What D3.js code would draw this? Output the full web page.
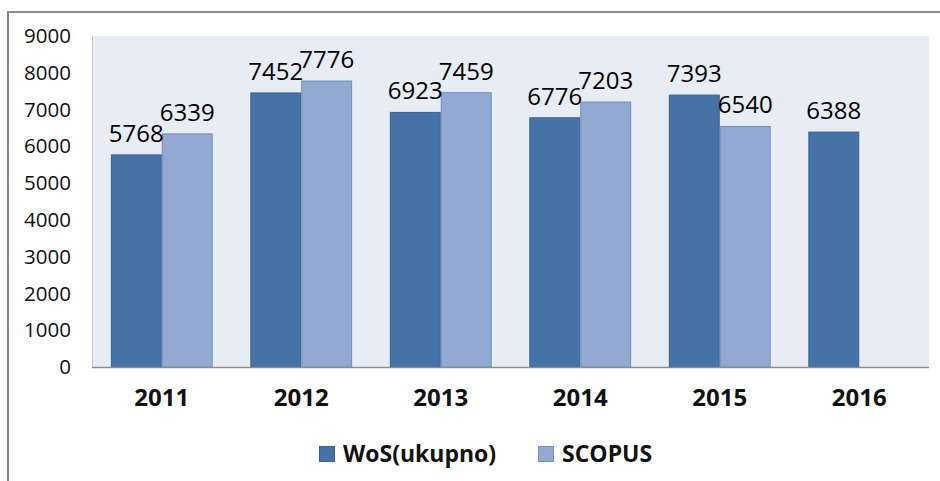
<!DOCTYPE html>
<html>
<head>
<meta charset="utf-8">
<script src="https://cdn.jsdelivr.net/npm/d3@7"></script>
<style>
  html, body { margin: 0; padding: 0; background: #fff; }
  #chart { width: 940px; height: 481px; }
  text { font-family: "Open Sans", "Noto Sans", sans-serif; }
</style>
</head>
<body>
<div id="chart"></div>
<script>
const years = ["2011", "2012", "2013", "2014", "2015", "2016"];
const seriesNames = ["WoS(ukupno)", "SCOPUS"];
const wos = [5768, 7452, 6923, 6776, 7393, 6388];
const scopus = [6339, 7776, 7459, 7203, 6540, null];
const yTicks = [0, 1000, 2000, 3000, 4000, 5000, 6000, 7000, 8000, 9000];

function renderChart(containerSelector) {
    const container = d3.select(containerSelector);
    const width = 940, height = 481;

    const svg = container.append("svg")
        .attr("width", width)
        .attr("height", height);

    // outer frame (runs off the right and bottom edge)
    svg.append("path")
        .attr("d", `M8,${height + 5} V12 H${width + 5}`)
        .attr("fill", "none")
        .attr("stroke", "#8a8a8a")
        .attr("stroke-width", 2);

    const plot = { left: 92, right: 929, top: 36, bottom: 367 };

    const x = d3.scaleBand().domain(years).range([plot.left, plot.right]).paddingInner(0).paddingOuter(0);
    const inner = d3.scaleBand().domain(seriesNames).range([0, x.bandwidth()]).paddingInner(0).paddingOuter(0.37);
    const y = d3.scaleLinear().domain([0, 9000]).range([plot.bottom, plot.top]);

    const colors = { "WoS(ukupno)": "#4572a7", "SCOPUS": "#94a9d1" };
    const strokes = { "WoS(ukupno)": "#3b6292", "SCOPUS": "#6f8dbd" };

    // plot background
    svg.append("rect")
        .attr("x", plot.left).attr("y", plot.top)
        .attr("width", plot.right - plot.left).attr("height", plot.bottom - plot.top)
        .attr("fill", "#e8ecf5");

    svg.append("line")
        .attr("x1", plot.left + 0.5).attr("x2", plot.left + 0.5)
        .attr("y1", plot.top).attr("y2", plot.bottom)
        .attr("stroke", "#c4c8d0").attr("stroke-width", 1);

    const rows = [];
    years.forEach((yr, i) => {
        rows.push({ year: yr, key: seriesNames[0], value: wos[i] });
        if (scopus[i] != null) rows.push({ year: yr, key: seriesNames[1], value: scopus[i] });
    });

    svg.append("g").selectAll("rect")
        .data(rows)
        .join("rect")
        .attr("x", d => x(d.year) + inner(d.key) + 0.5)
        .attr("y", d => y(d.value))
        .attr("width", inner.bandwidth() - 1)
        .attr("height", d => y(0) - y(d.value))
        .attr("fill", d => colors[d.key])
        .attr("stroke", d => strokes[d.key])
        .attr("stroke-width", 1);

    // value labels
    svg.append("g").selectAll("text")
        .data(rows)
        .join("text")
        .attr("x", d => x(d.year) + inner(d.key) + inner.bandwidth() / 2)
        .attr("y", d => y(d.value) - 13)
        .attr("text-anchor", "middle")
        .style("font-size", "24px")
        .style("fill", "#000")
        .text(d => d.value);

    // x axis line
    svg.append("line")
        .attr("x1", plot.left).attr("x2", plot.right)
        .attr("y1", plot.bottom + 0.5).attr("y2", plot.bottom + 0.5)
        .attr("stroke", "#8c8c8c").attr("stroke-width", 1.5);

    // y axis labels
    const yAxis = d3.axisLeft(y).tickValues(yTicks).tickSize(0).tickPadding(21).tickFormat(d3.format("d"));
    const gy = svg.append("g").attr("transform", `translate(${plot.left},0)`).call(yAxis);
    gy.select(".domain").remove();
    gy.selectAll("text")
        .style("font-size", "20.5px")
        .style("fill", "#111")
        .style("font-family", "'Open Sans', 'Noto Sans', sans-serif");

    // x axis labels
    const xAxis = d3.axisBottom(x).tickSize(0).tickPadding(22);
    const gx = svg.append("g").attr("transform", `translate(0,${plot.bottom})`).call(xAxis);
    gx.select(".domain").remove();
    gx.selectAll("text")
        .style("font-size", "24px")
        .style("font-weight", "bold")
        .style("fill", "#111")
        .style("font-family", "'Open Sans', 'Noto Sans', sans-serif");

    // legend
    const legendX = [319, 538];
    const legend = svg.append("g");
    seriesNames.forEach((name, i) => {
        const lg = legend.append("g").attr("transform", `translate(${legendX[i]}, 446)`);
        lg.append("rect").attr("x", 0.5).attr("y", 0.5).attr("width", 15).attr("height", 15)
            .attr("fill", colors[name]).attr("stroke", strokes[name]);
        lg.append("text").attr("x", 24).attr("y", 16)
            .style("font-size", "23px").style("font-weight", "bold").style("fill", "#111")
            .text(name);
    });
}

renderChart("#chart");
</script>
</body>
</html>
